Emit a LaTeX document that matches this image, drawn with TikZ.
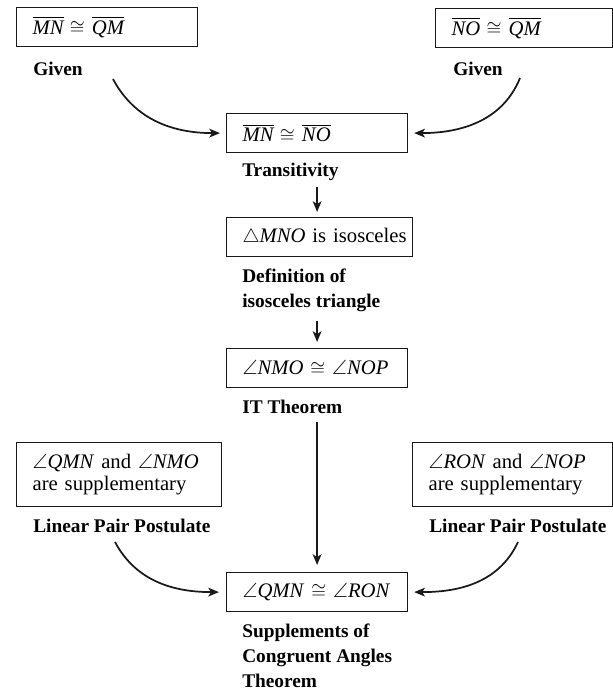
\documentclass[tikz,border=0pt]{standalone}
\usepackage{amsmath}
\usepackage{amssymb}
\usepackage{fontspec}
\setmainfont{Liberation Serif}
\usetikzlibrary{arrows.meta}

\newcommand{\seg}[1]{$\overline{\textit{#1}}$}
\newcommand{\ang}[1]{$\angle$\textit{#1}}
\newcommand{\segcong}{\hspace{0.3em}$\cong$\hspace{0.35em}}

\begin{document}
\begin{tikzpicture}[
    x=0.75pt, y=-0.75pt,
    box/.style={draw=black!90, line width=0.9pt, anchor=north west, inner xsep=12pt, inner ysep=0pt, minimum height=29.25pt, align=left, font=\fontsize{15.5}{16.5}\selectfont},
    lbl/.style={anchor=base west, inner sep=0pt, align=left, font=\bfseries\fontsize{14.5}{18.75}\selectfont},
    arrow/.style={-{Stealth[length=8pt, width=6.5pt, inset=2pt]}, line width=1.3pt, draw=black!90},
]
\useasboundingbox (0,0) rectangle (613,692);

% Row 1: givens
\node[box, text width=111.75pt] (mnqm) at (16,7) {\seg{MN}\segcong\seg{QM}};
\node[lbl] (mnqmlbl) at (33,75) {Given};
\node[box, text width=108.75pt] (noqm) at (435,8) {\seg{NO}\segcong\seg{QM}};
\node[lbl] (noqmlbl) at (453,75) {Given};

% Column: transitivity down to IT Theorem
\node[box, text width=111.75pt] (mnno) at (226,113) {\seg{MN}\segcong\seg{NO}};
\node[lbl] (mnnolbl) at (242,176) {Transitivity};
\node[box, text width=115.5pt] (iso) at (226,217) {\mbox{$\triangle$\textit{MNO} is isosceles}};
\node[lbl] (isolbl) at (242,307) {Definition of\\isosceles triangle};
\node[box, text width=111.75pt] (nmo) at (226,348) {\ang{NMO} $\cong$ \ang{NOP}};
\node[lbl] (nmolbl) at (242,413) {IT Theorem};

% Row 3: linear pairs
\node[box, text width=129.75pt, minimum height=48pt] (suppa) at (16,442) {\ang{QMN} and \ang{NMO}\\are supplementary};
\node[lbl] (suppalbl) at (33,532) {Linear Pair Postulate};
\node[box, text width=126pt, minimum height=48pt] (suppb) at (412,442) {\ang{RON} and \ang{NOP}\\are supplementary};
\node[lbl] (suppblbl) at (429,532) {Linear Pair Postulate};

% Conclusion
\node[box, text width=111.75pt] (qmn) at (226,572) {\ang{QMN} $\cong$ \ang{RON}};
\node[lbl] (qmnlbl) at (242,687) {Supplements of\\Congruent Angles\\Theorem};

% curve starts
\coordinate (mnqmout) at (113,79);
\coordinate (noqmout) at (520,78);
\coordinate (suppaout) at (115,542);
\coordinate (suppbout) at (518,542);

\draw[arrow, shorten >=4.5pt] (mnqmout) to[out=-62, in=180] (mnno.west);
\draw[arrow, shorten >=4.5pt] (noqmout) to[out=-112, in=0] (mnno.east);
\draw[arrow, shorten <=5pt, shorten >=3.75pt] (mnnolbl.south -| mnno.south) -- (iso.north -| mnno.south);
\draw[arrow, shorten <=6.75pt, shorten >=4.5pt] (isolbl.south -| mnno.south) -- (nmo.north);
\draw[arrow, shorten <=6.75pt, shorten >=5.25pt] (nmolbl.south -| nmo.south) -- (qmn.north);
\draw[arrow, shorten >=5.25pt] (suppaout) to[out=-62, in=180] (qmn.west);
\draw[arrow, shorten >=4.5pt] (suppbout) to[out=-115, in=0] (qmn.east);

\end{tikzpicture}
\end{document}
